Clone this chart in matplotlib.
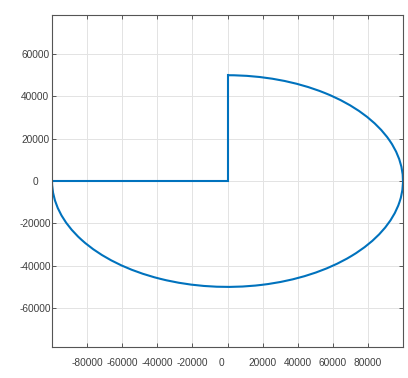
import matplotlib
matplotlib.use("Agg")
import matplotlib.pyplot as plt
import matplotlib.transforms as mtransforms
from matplotlib.patches import Arc

# sector outline: straight part, then elliptical arc
path_x = [-100000, 0, 0]
path_y = [0, 0, 50000]
semi_a = 100000
semi_b = 50000
arc_start = -180
arc_end = 90

xticks = [-80000, -60000, -40000, -20000, 0, 20000, 40000, 60000, 80000]
yticks = [-60000, -40000, -20000, 0, 20000, 40000, 60000]

plt.rcParams["font.family"] = ["Liberation Sans Narrow", "Liberation Sans", "DejaVu Sans"]
blue = "#0072BD"

fig = plt.figure(figsize=(4.08, 3.78), dpi=100)
ax = fig.add_axes([0.1275, 0.082, 0.8602, 0.878])

ax.plot(path_x, path_y, color=blue, lw=1.5, solid_joinstyle="miter")
ax.add_patch(Arc((0, 0), 2 * semi_a, 2 * semi_b, theta1=arc_start, theta2=arc_end,
                 color=blue, lw=1.5))

ax.set_xlim(-100000, 100000)
ax.set_ylim(-78400, 78400)
ax.set_xticks(xticks)
ax.set_yticks(yticks)
ax.set_xticklabels([str(v) for v in xticks])
ax.set_yticklabels([str(v) for v in yticks])

ax.grid(True, color="#e3e3e3", lw=0.7)
ax.set_axisbelow(True)
ax.tick_params(direction="in", length=3, width=0.6, colors="#404040",
               labelsize=7.3, top=True, right=True)
ax.tick_params(axis="x", pad=8)
ax.tick_params(axis="y", pad=12)
for lbl in ax.get_yticklabels():
    lbl.set_horizontalalignment("center")
for lbl in ax.get_xticklabels():
    if lbl.get_text() == "0":
        lbl.set_transform(lbl.get_transform() +
                          mtransforms.ScaledTranslation(-6 / 100, 0, fig.dpi_scale_trans))
for s in ax.spines.values():
    s.set_color("#555555")
    s.set_linewidth(0.8)

fig.savefig("out.png", dpi=100)
